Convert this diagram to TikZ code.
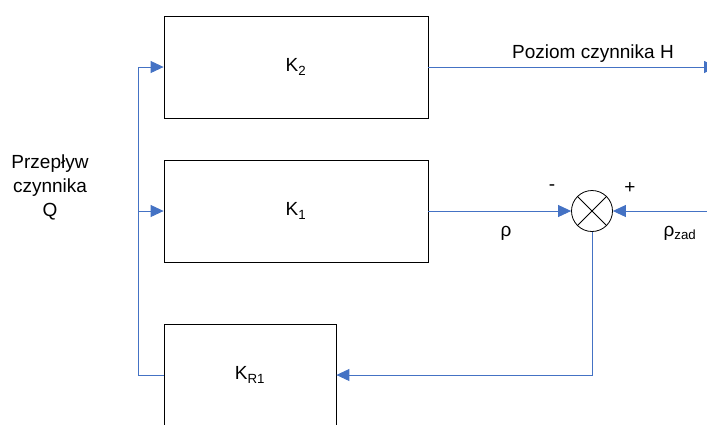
\documentclass[tikz,border=0pt]{standalone}
\usepackage{fontspec}
\setmainfont{Liberation Sans}
\usetikzlibrary{arrows.meta}
\definecolor{link}{HTML}{4472C4}
\begin{document}
\begin{tikzpicture}[x=1pt,y=-1pt,
  blk/.style={draw=black,line width=0.8pt,minimum height=102pt,inner sep=0pt},
  lnk/.style={draw=link,line width=0.9pt},
  arr/.style={lnk,-{Triangle[length=13pt,width=12pt]}},
  lbl/.style={font=\fontsize{19}{24}\selectfont,inner sep=0pt}]
\clip (0,0) rectangle (707,424);
% blocks
\node[blk,minimum width=264pt,lbl] (k2) at (296,67) {K\textsubscript{2}};
\node[blk,minimum width=264pt,lbl] (k1) at (296,211) {K\textsubscript{1}};
\node[blk,minimum width=172pt,lbl] (kr) at (250,375) {K\textsubscript{R1}};
% summing junction
\node[circle,draw=black,line width=0.8pt,minimum size=41pt,inner sep=0pt] (s) at (592,211) {};
\draw[line width=0.8pt] (s.north west) -- (s.south east) (s.north east) -- (s.south west);
% free ends
\coordinate (out) at (717,67);
\coordinate (rin) at (712,211);
\coordinate (bus) at (138,375);
\coordinate (bustop) at (138,67);
% connectors
\draw[arr] (k2.east) -- (out);
\draw[arr] (k1.east) -- (s.west);
\draw[arr] (rin) -- (s.east);
\draw[arr] (s.south) |- (kr.east);
\draw[lnk] (kr.west) -- (bus) -- (bustop);
\draw[arr] (bustop) -- (k2.west);
\draw[arr] (bus |- k1.west) -- (k1.west);
% labels
\node[lbl,anchor=base] (lh) at (593,58) {Poziom czynnika H};
\node[lbl,align=center] (lq) at (50,187) {Przepływ\\czynnika\\Q};
\node[lbl] (lm) at (552,188) {-};
\node[lbl] (lp) at (630,188) {+};
\node[lbl,anchor=base] (lr) at (506,236) {ρ};
\node[lbl,anchor=base] (lrz) at (680,236) {ρ\textsubscript{zad}};
\end{tikzpicture}
\end{document}
